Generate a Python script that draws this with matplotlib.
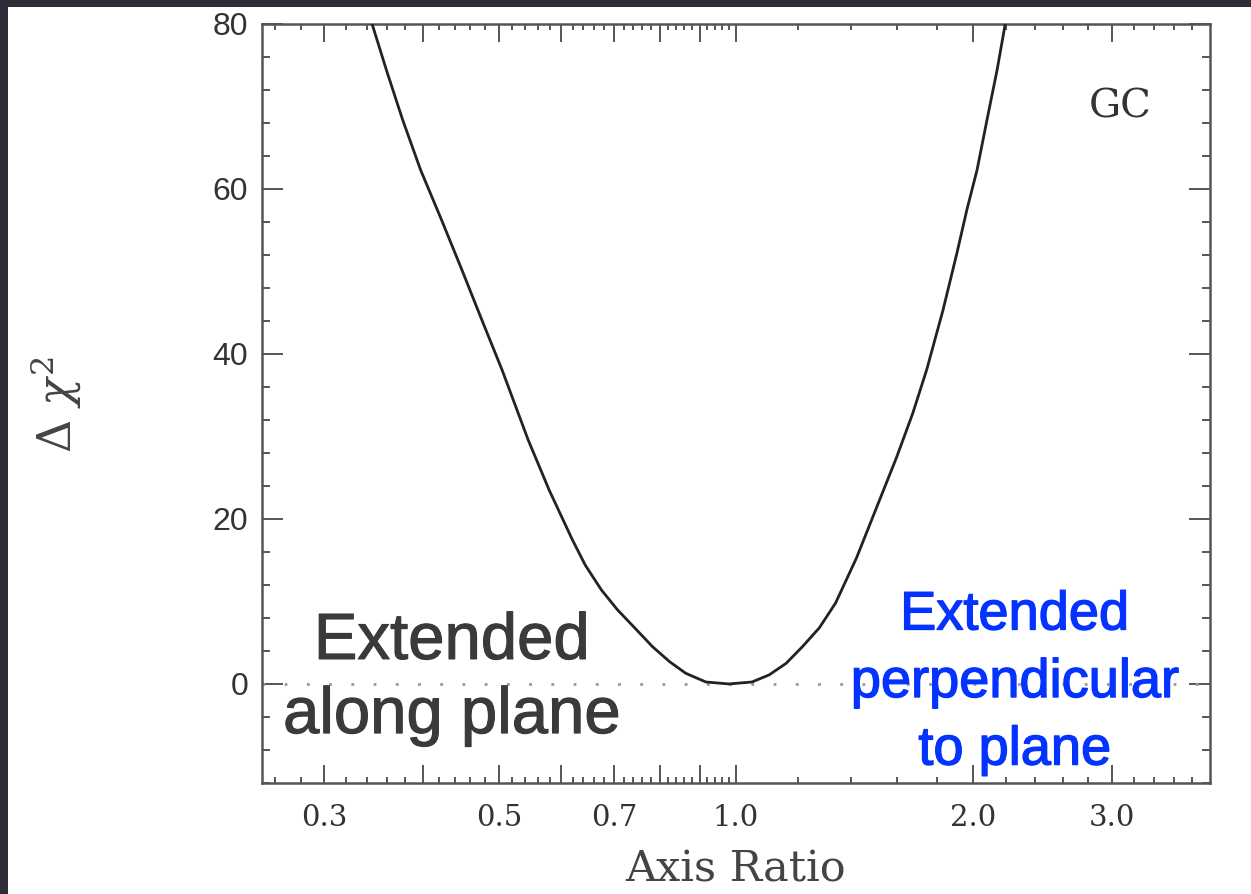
import numpy as np
import matplotlib
matplotlib.use("Agg")
import matplotlib.pyplot as plt
import matplotlib.patheffects as pe
from matplotlib.patches import Rectangle
from matplotlib.ticker import FixedLocator, FixedFormatter, MultipleLocator

plt.rcParams["mathtext.fontset"] = "dejavuserif"

# values
ratio = [0.345, 0.3598, 0.3772, 0.3976, 0.4229, 0.4486, 0.4757, 0.5044,
         0.5445, 0.5791, 0.6196, 0.6436, 0.6746, 0.7070, 0.7454, 0.7838,
         0.8236, 0.8632, 0.9157, 0.9797, 1.048, 1.102, 1.158, 1.214,
         1.276, 1.338, 1.423, 1.522, 1.600, 1.677, 1.747, 1.832,
         1.908, 1.965, 2.024, 2.084, 2.146, 2.197]
dchi2 = [80.0, 74.4, 68.4, 62.3, 56.2, 50.2, 44.1, 38.1,
         29.6, 23.5, 17.5, 14.4, 11.4, 9.0, 6.7, 4.5,
         2.7, 1.3, 0.24, 0.0, 0.24, 1.1, 2.5, 4.5,
         6.8, 9.8, 15.3, 22.3, 27.5, 32.8, 38.1, 45.3,
         52.2, 57.5, 62.3, 68.4, 74.4, 79.9]

x_major = [0.3, 0.4, 0.5, 0.6, 0.7, 0.8, 0.9, 1.0, 2.0, 3.0]
x_labels = ["0.3", "", "0.5", "", "0.7", "", "", "1.0", "2.0", "3.0"]
x_minor = [round(v, 2) for v in np.arange(0.26, 1.0, 0.02)] + \
          [round(v, 1) for v in np.arange(1.2, 4.0, 0.2)]
x_minor = [v for v in x_minor if v not in x_major]

gray_text = "Extended\nalong plane"
blue_text = "Extended\nperpendicular\nto plane"

fig = plt.figure(figsize=(12.51, 8.94), dpi=100)
fig.patch.set_facecolor("white")
# dark slide border on the left and top
fig.patches.append(Rectangle((0, 0), 8 / 1251, 1, transform=fig.transFigure,
                             facecolor="#2d2e38", edgecolor="none", zorder=-10))
fig.patches.append(Rectangle((0, 1 - 7 / 894), 1, 7 / 894, transform=fig.transFigure,
                             facecolor="#2d2e38", edgecolor="none", zorder=-10))

ax = fig.add_axes([0.2094, 0.1242, 0.7578, 0.849])
ax.set_facecolor("none")
ax.set_xscale("log")
ax.set_xlim(0.25, 4.0)
ax.set_ylim(-12, 80)

ax.plot(ratio, dchi2, color="#222222", lw=2.0, zorder=3,
        solid_joinstyle="round")
ax.axhline(0, color="#999999", lw=2.0, linestyle=(0, (1, 7)), zorder=2)

ax.xaxis.set_major_locator(FixedLocator(x_major))
ax.xaxis.set_major_formatter(FixedFormatter(x_labels))
ax.xaxis.set_minor_locator(FixedLocator(x_minor))
ax.xaxis.set_minor_formatter(FixedFormatter([]))
ax.yaxis.set_major_locator(MultipleLocator(20))
ax.yaxis.set_minor_locator(MultipleLocator(4))

ax.tick_params(which="both", direction="in", top=True, right=True,
               color="#555555", width=1.4)
ax.tick_params(axis="x", which="major", length=13, labelsize=21, pad=15,
               labelcolor="#333333")
ax.tick_params(axis="x", which="minor", length=4)
ax.tick_params(axis="y", which="major", length=15, labelsize=23, pad=10,
               labelcolor="#333333")
ax.tick_params(axis="y", which="minor", length=6)
for lab in ax.get_xticklabels():
    lab.set_family("DejaVu Serif")
for lab in ax.get_yticklabels():
    lab.set_family("Liberation Sans")

for s in ax.spines.values():
    s.set_color("#555555")
    s.set_linewidth(1.8)

ax.set_xlabel("Axis Ratio", family="DejaVu Serif", fontsize=31,
              color="#444444", labelpad=12)
ax.set_ylabel(r"$\Delta\ \chi^2$", fontsize=33, color="#444444", va="center")
ax.yaxis.set_label_coords(-0.218, 0.498)

ax.text(0.905, 0.8906, "GC", transform=ax.transAxes, family="DejaVu Serif",
        fontsize=29, color="#333333", ha="center", va="center")

fig.text(0.361, 0.2405, gray_text, family="Liberation Sans", fontsize=47,
         color="#3a3a3a", ha="center", va="center", linespacing=1.3, zorder=5,
         path_effects=[pe.withStroke(linewidth=0.8, foreground="#3a3a3a")])
fig.text(0.811, 0.236, blue_text, family="Liberation Sans", fontsize=39,
         color="#0433ff", ha="center", va="center", linespacing=1.45, zorder=5,
         path_effects=[pe.withStroke(linewidth=1.0, foreground="#0433ff")])

fig.savefig("out.png", dpi=100, facecolor=fig.get_facecolor())
